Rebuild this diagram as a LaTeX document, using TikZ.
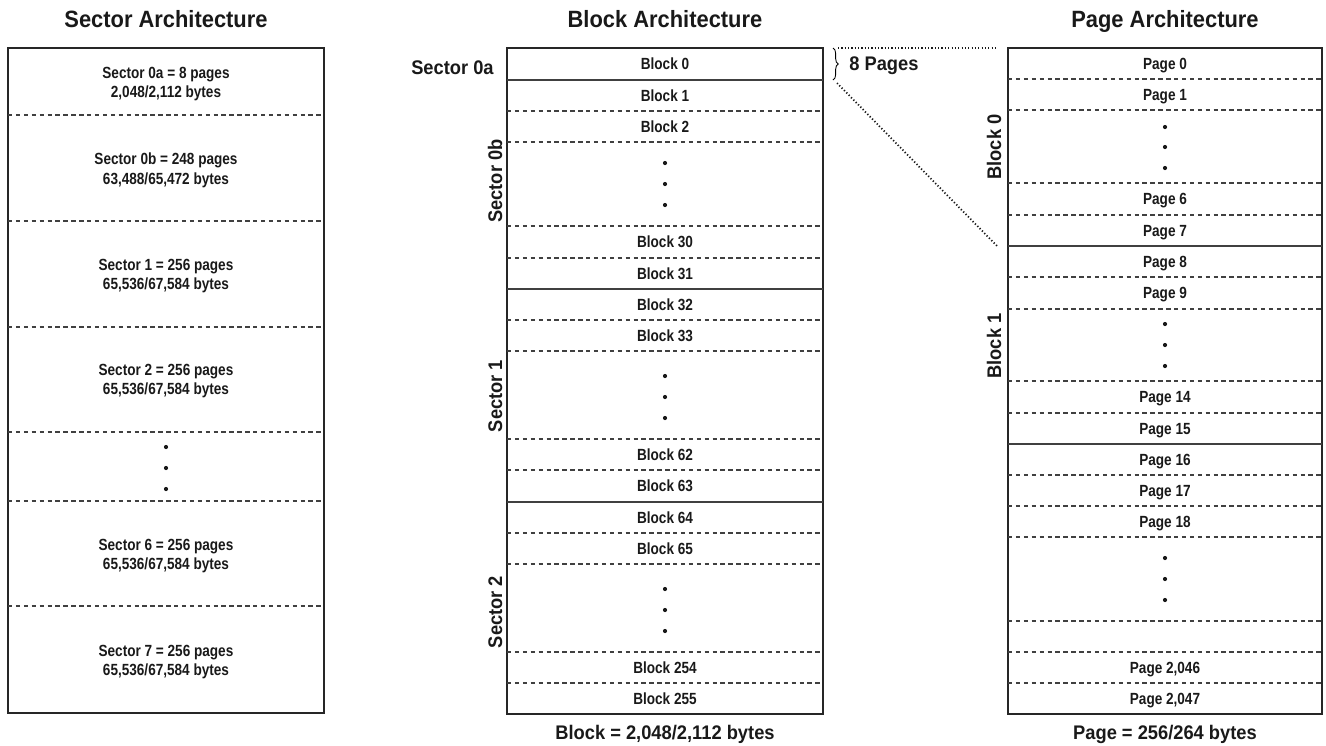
\documentclass[tikz,border=0pt]{standalone}
\usepackage{fontspec}
\setmainfont{Liberation Sans}
\newfontfamily\narrowsf[FakeStretch=0.84]{Liberation Sans}
\newfontfamily\titlesf[FakeStretch=0.93]{Liberation Sans}
\usetikzlibrary{decorations.pathreplacing}

\tikzset{
  frame/.style={line width=1.4pt, draw=black!85},
  solidsep/.style={line width=0.8pt, draw=black!75},
  dashsep/.style={line width=0.6pt, draw=black!75, dash pattern=on 2.5pt off 2pt},
  dotline/.style={line width=1pt, draw=black!90, dash pattern=on 0.7pt off 1.2pt},
  cell/.style={font=\narrowsf\bfseries\fontsize{9.2}{11}\selectfont, text=black!90,
    text height=1.5ex, text depth=.25ex, inner sep=0pt},
  sectext/.style={font=\narrowsf\bfseries\fontsize{9.2}{11.3}\selectfont, text=black!90,
    align=center, inner sep=0pt},
  title/.style={font=\titlesf\bfseries\fontsize{13.4}{16}\selectfont, text=black!90,
    anchor=base, inner sep=0pt},
  sidelabel/.style={font=\titlesf\bfseries\fontsize{11.2}{14}\selectfont, text=black!90,
    inner sep=0pt},
}

\begin{document}
\begin{tikzpicture}[x=0.02cm, y=-0.02cm]
    \useasboundingbox (0,0) rectangle (1326,745);

    % Titel
    \node[title] (tsector) at (166,27) {Sector Architecture};
    \node[title] (tblock) at (665,27) {Block Architecture};
    \node[title] (tpage) at (1165,27) {Page Architecture};

    % Sector Architecture
    \draw[frame] (8,48) rectangle (324,713);
    \foreach \y in {115,221,327,432,501,606}
        \draw[dashsep] (8,\y) -- (324,\y);
    \node[sectext] (s0a) at (166,84) {Sector 0a = 8 pages\\2,048/2,112 bytes};
    \node[sectext] (s0b) at (166,170) {Sector 0b = 248 pages\\63,488/65,472 bytes};
    \node[sectext] (s1) at (166,276) {Sector 1 = 256 pages\\65,536/67,584 bytes};
    \node[sectext] (s2) at (166,381) {Sector 2 = 256 pages\\65,536/67,584 bytes};
    \node[sectext] (s6) at (166,556) {Sector 6 = 256 pages\\65,536/67,584 bytes};
    \node[sectext] (s7) at (166,662) {Sector 7 = 256 pages\\65,536/67,584 bytes};
    \foreach \y in {447,468,489}
        \fill[black!90] (166,\y) circle (2.1);

    % Block Architecture
    \draw[frame] (507,48) rectangle (823,714);
    \foreach \y in {80,289,502}
        \draw[solidsep] (507,\y) -- (823,\y);
    \foreach \y in {111,142,226,258,320,351,439,470,533,564,652,683}
        \draw[dashsep] (507,\y) -- (823,\y);
    \foreach \y/\n in {64/0, 95.5/1, 126.5/2, 242/30, 273.5/31, 304.5/32, 335.5/33,
        454.5/62, 486/63, 517.5/64, 548.5/65, 667.5/254, 698.5/255}
        \node[cell] (b\n) at (665,\y) {Block \n};
    \foreach \y in {163,184,205, 376,397,418, 589,610,631}
        \fill[black!90] (665,\y) circle (2.1);
    \node[sidelabel, anchor=base east] (sec0a) at (494,74) {Sector 0a};
    \node[sidelabel, rotate=90, anchor=base] (sec0b) at (502,181) {Sector 0b};
    \node[sidelabel, rotate=90, anchor=base] (sec1) at (502,396) {Sector 1};
    \node[sidelabel, rotate=90, anchor=base] (sec2) at (502,612) {Sector 2};
    \node[sidelabel, anchor=base] (bsize) at (665,739) {Block = 2,048/2,112 bytes};

    % 8 Pages
    \draw[line width=0.5pt, decorate, decoration={brace, amplitude=3}] (833,48) -- (833,80);
    \node[sidelabel, anchor=base west] (eight) at (849,70) {8 Pages};
    \coordinate (brtop) at (838,48);
    \coordinate (brbot) at (837,83);
    \coordinate (pgtop) at (998,48);
    \coordinate (pgbot) at (998,247);
    \draw[dotline] (brtop) -- (pgtop);
    \draw[dotline] (brbot) -- (pgbot);

    % Page Architecture
    \draw[frame] (1008,48) rectangle (1322,714);
    \foreach \y in {246,444}
        \draw[solidsep] (1008,\y) -- (1322,\y);
    \foreach \y in {79,110,183,215,277,309,381,413,475,506,537,621,652,683}
        \draw[dashsep] (1008,\y) -- (1322,\y);
    \foreach \y/\n in {63.5/0, 94.5/1, 199/6, 230.5/7, 261.5/8, 293/9, 397/14,
        428.5/15, 459.5/16, 490.5/17, 521.5/18}
        \node[cell] (p\n) at (1165,\y) {Page \n};
    \node[cell] (p2046) at (1165,667.5) {Page 2,046};
    \node[cell] (p2047) at (1165,698.5) {Page 2,047};
    \foreach \y in {127,147,168, 324,345,366, 558,579,600}
        \fill[black!90] (1165,\y) circle (2.1);
    \node[sidelabel, rotate=90, anchor=base] (blk0) at (1001,147) {Block 0};
    \node[sidelabel, rotate=90, anchor=base] (blk1) at (1001,346) {Block 1};
    \node[sidelabel, anchor=base] (psize) at (1165,739) {Page = 256/264 bytes};
\end{tikzpicture}
\end{document}
